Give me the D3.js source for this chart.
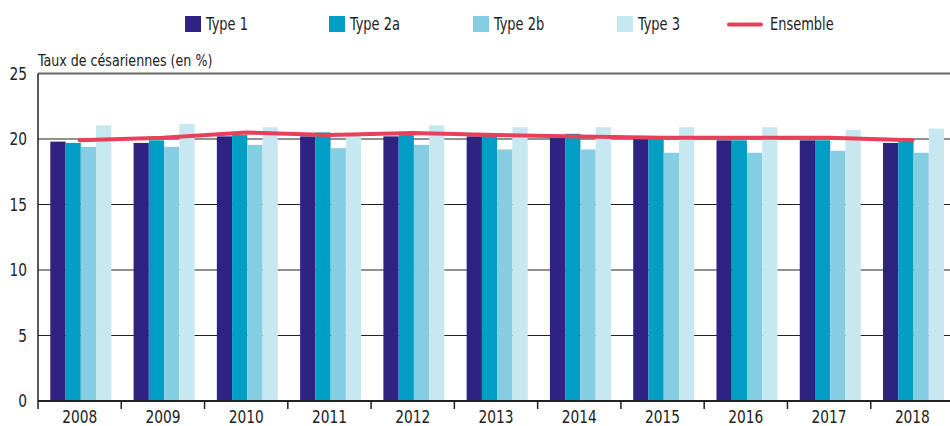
<!DOCTYPE html>
<html>
<head>
<meta charset="utf-8">
<script src="https://cdn.jsdelivr.net/npm/d3@7"></script>
<style>
  body { margin: 0; background: #fff; }
  svg { display: block; font-family: "DejaVu Sans Condensed", "Liberation Sans Narrow", "Arial Narrow", sans-serif; }
  text { fill: #222; }
</style>
</head>
<body>
<div id="chart"></div>
<script>
// Data
var years = ["2008", "2009", "2010", "2011", "2012", "2013", "2014", "2015", "2016", "2017", "2018"];
var types = ["Type 1", "Type 2a", "Type 2b", "Type 3"];

var type1  = [19.8, 19.7, 20.2, 20.2, 20.2, 20.2, 20.1, 20.0, 19.9, 19.9, 19.7];
var type2a = [19.7, 19.9, 20.3, 20.5, 20.3, 20.3, 20.4, 20.0, 19.9, 19.9, 19.8];
var type2b = [19.4, 19.4, 19.55, 19.3, 19.55, 19.2, 19.2, 18.95, 18.95, 19.1, 18.95];
var type3  = [21.05, 21.15, 20.9, 20.4, 21.05, 20.9, 20.9, 20.9, 20.9, 20.7, 20.8];
var ensemble = [19.9, 20.1, 20.5, 20.3, 20.45, 20.3, 20.2, 20.1, 20.1, 20.1, 19.9];

var yTicks = [0, 5, 10, 15, 20, 25];

var colors = ["#2e2383", "#009ec4", "#85cde1", "#c8e8f1"];
var lineColor = "#e8405a";

// Canvas
var svgWidth = 950;
var svgHeight = 426;
var plot = { left: 38, right: 954, top: 73.5, bottom: 401 };

var svg = d3.select("#chart").append("svg")
    .attr("width", svgWidth)
    .attr("height", svgHeight);

// narrow text: the reference uses a condensed face, so squeeze horizontally
function label(parent, x, yy, str, size, sx, anchor) {
    return parent.append("text")
        .attr("transform", `translate(${x},${yy}) scale(${sx},1)`)
        .attr("text-anchor", anchor || "start")
        .style("font-size", size + "px")
        .text(str);
}

// Scales
var x0 = d3.scaleBand().domain(years).range([plot.left, plot.right]).padding(0);
var x1 = d3.scaleBand().domain(types).range([12.3, 73.3]).padding(0);
var y = d3.scaleLinear().domain([0, 25]).range([plot.bottom, plot.top]);

// Gridlines
svg.append("g").selectAll("line")
    .data(yTicks.filter(d => d > 0 && d < 25))
    .enter().append("line")
    .attr("x1", plot.left).attr("x2", plot.right)
    .attr("y1", d => y(d)).attr("y2", d => y(d))
    .attr("stroke", "#222").attr("stroke-width", 1.2);

// top border
svg.append("line")
    .attr("x1", plot.left).attr("x2", plot.right)
    .attr("y1", y(25)).attr("y2", y(25))
    .attr("stroke", "#666").attr("stroke-width", 2);

// Bars
var series = [type1, type2a, type2b, type3];
var rows = years.map(function (yr, i) {
    return { year: yr, vals: types.map((t, k) => ({ type: t, value: series[k][i], k: k })) };
});

var groups = svg.append("g").selectAll("g")
    .data(rows)
    .enter().append("g")
    .attr("transform", d => `translate(${x0(d.year)},0)`);

groups.selectAll("rect")
    .data(d => d.vals)
    .enter().append("rect")
    .attr("x", d => x1(d.type))
    .attr("width", x1.bandwidth())
    .attr("y", d => y(d.value))
    .attr("height", d => y(0) - y(d.value))
    .attr("fill", d => colors[d.k]);

// Y axis labels
var yAxis = svg.append("g");
yTicks.forEach(function (t) {
    label(yAxis, plot.left - 11, y(t) + 6, t, 17, 0.9, "end");
});

svg.append("line")
    .attr("x1", plot.left).attr("x2", plot.left)
    .attr("y1", y(25)).attr("y2", y(0))
    .attr("stroke", "#222").attr("stroke-width", 1.5);

// X axis: line, boundary ticks, centered labels
svg.append("line")
    .attr("x1", plot.left).attr("x2", plot.right)
    .attr("y1", y(0)).attr("y2", y(0))
    .attr("stroke", "#222").attr("stroke-width", 2);

svg.append("g").selectAll("line")
    .data(years.concat(["end"]))
    .enter().append("line")
    .attr("x1", (d, i) => plot.left + i * x0.step())
    .attr("x2", (d, i) => plot.left + i * x0.step())
    .attr("y1", y(0)).attr("y2", y(0) + 8)
    .attr("stroke", "#222").attr("stroke-width", 1.5);

var xAxis = svg.append("g");
years.forEach(function (yr) {
    label(xAxis, x0(yr) + x0.bandwidth() / 2, 423, yr, 17, 0.9, "middle");
});

// Ensemble line
var line = d3.line()
    .x((d, i) => x0(years[i]) + x0.bandwidth() / 2)
    .y(d => y(d));

svg.append("path")
    .datum(ensemble)
    .attr("d", line)
    .attr("fill", "none")
    .attr("stroke", lineColor)
    .attr("stroke-width", 4)
    .attr("stroke-linecap", "round")
    .attr("stroke-linejoin", "round");

// Y axis title
label(svg, 38, 66, "Taux de césariennes (en %)", 16, 0.88);

// Legend
var legendX = [185, 329, 473, 617];
var legend = svg.append("g");
types.forEach(function (t, k) {
    legend.append("rect")
        .attr("x", legendX[k]).attr("y", 16)
        .attr("width", 16).attr("height", 16)
        .attr("fill", colors[k]);
    label(legend, legendX[k] + 21, 30, t, 17, 0.85);
});
legend.append("line")
    .attr("x1", 729).attr("x2", 761)
    .attr("y1", 24.5).attr("y2", 24.5)
    .attr("stroke", lineColor).attr("stroke-width", 4)
    .attr("stroke-linecap", "round");
label(legend, 770, 30, "Ensemble", 17, 0.85);
</script>
</body>
</html>
